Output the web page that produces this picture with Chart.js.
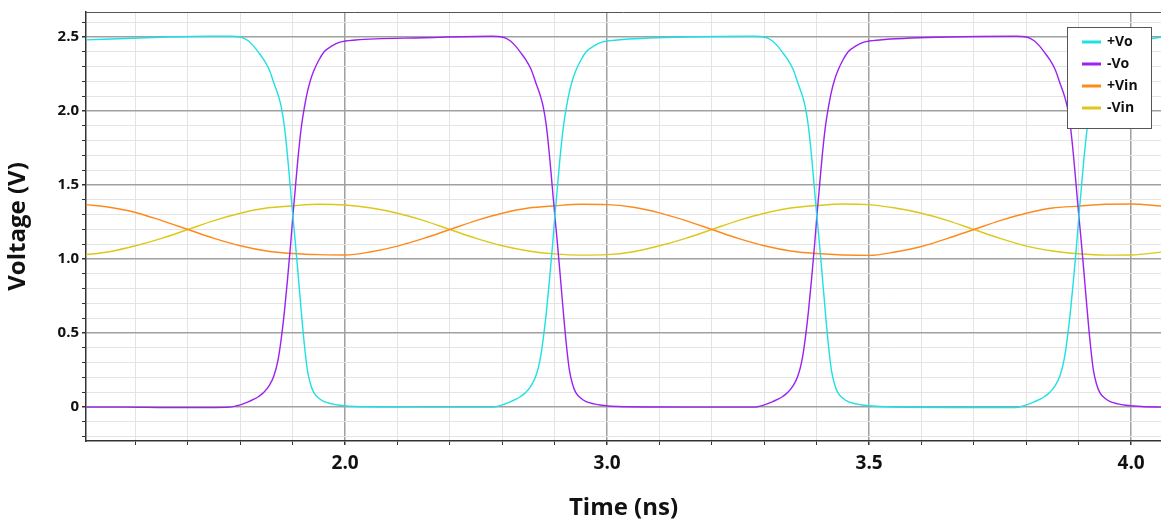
<!DOCTYPE html>
<html>
<head>
<meta charset="utf-8">
<script src="https://cdn.jsdelivr.net/npm/chart.js@4.4.0/dist/chart.umd.min.js"></script>
<style>
  html, body { margin: 0; padding: 0; background: #fff; }
  #wrap { width: 1161px; height: 523px; position: relative; }
</style>
</head>
<body>
<div id="wrap"><canvas id="chart"></canvas></div>
<script>
const seriesNames = ["+Vo", "-Vo", "+Vin", "-Vin"];
const seriesColors = ["#1fe0e3", "#9b22f0", "#ff8a1c", "#dcc81a"];

// output time points (ns), dense around each switching edge
const voTime = [
  1.50, 1.58, 1.66, 1.74,
  1.78, 1.80, 1.815, 1.825, 1.835, 1.845, 1.855, 1.864, 1.872, 1.878, 1.884, 1.89, 1.896,
  1.90, 1.904, 1.91, 1.916, 1.922, 1.928, 1.934, 1.94, 1.95, 1.96, 1.975, 1.99, 2.02,
  2.15,
  2.28, 2.30, 2.315, 2.325, 2.335, 2.345, 2.355, 2.364, 2.372, 2.378, 2.384, 2.39, 2.396,
  2.40, 2.404, 2.41, 2.416, 2.422, 2.428, 2.434, 2.44, 2.45, 2.46, 2.475, 2.49, 2.52,
  2.65,
  2.78, 2.80, 2.815, 2.825, 2.835, 2.845, 2.855, 2.864, 2.872, 2.878, 2.884, 2.89, 2.896,
  2.90, 2.904, 2.91, 2.916, 2.922, 2.928, 2.934, 2.94, 2.95, 2.96, 2.975, 2.99, 3.02,
  3.15,
  3.28, 3.30, 3.315, 3.325, 3.335, 3.345, 3.355, 3.364, 3.372, 3.378, 3.384, 3.39, 3.396,
  3.40, 3.404, 3.41, 3.416, 3.422, 3.428, 3.434, 3.44, 3.45, 3.46, 3.475, 3.49, 3.52,
  3.56
];
const voPos = [
  2.48, 2.49, 2.50, 2.505,
  2.505, 2.50, 2.475, 2.44, 2.395, 2.345, 2.28, 2.19, 2.11, 2.03, 1.90, 1.70, 1.46,
  1.30, 1.15, 0.91, 0.66, 0.43, 0.25, 0.155, 0.10, 0.06, 0.038, 0.022, 0.013, 0.004,
  0.0,
  0.0, 0.015, 0.035, 0.052, 0.072, 0.10, 0.145, 0.21, 0.32, 0.46, 0.64, 0.86, 1.10,
  1.28, 1.44, 1.68, 1.88, 2.02, 2.13, 2.21, 2.27, 2.345, 2.40, 2.44, 2.465, 2.48,
  2.50,
  2.505, 2.50, 2.475, 2.44, 2.395, 2.345, 2.28, 2.19, 2.11, 2.03, 1.90, 1.70, 1.46,
  1.30, 1.15, 0.91, 0.66, 0.43, 0.25, 0.155, 0.10, 0.06, 0.038, 0.022, 0.013, 0.004,
  -0.002,
  -0.002, 0.015, 0.035, 0.052, 0.072, 0.10, 0.145, 0.21, 0.32, 0.46, 0.64, 0.86, 1.10,
  1.28, 1.44, 1.68, 1.88, 2.02, 2.13, 2.21, 2.27, 2.345, 2.40, 2.44, 2.465, 2.48,
  2.50
];
const voNeg = [
  0.0, 0.0, -0.003, -0.003,
  0.0, 0.015, 0.035, 0.052, 0.072, 0.10, 0.145, 0.21, 0.32, 0.46, 0.64, 0.86, 1.10,
  1.28, 1.44, 1.68, 1.88, 2.02, 2.13, 2.21, 2.27, 2.345, 2.40, 2.44, 2.465, 2.48,
  2.495,
  2.505, 2.50, 2.475, 2.44, 2.395, 2.345, 2.28, 2.19, 2.11, 2.03, 1.90, 1.70, 1.46,
  1.30, 1.15, 0.91, 0.66, 0.43, 0.25, 0.155, 0.10, 0.06, 0.038, 0.022, 0.013, 0.004,
  0.0,
  0.0, 0.015, 0.035, 0.052, 0.072, 0.10, 0.145, 0.21, 0.32, 0.46, 0.64, 0.86, 1.10,
  1.28, 1.44, 1.68, 1.88, 2.02, 2.13, 2.21, 2.27, 2.345, 2.40, 2.44, 2.465, 2.48,
  2.50,
  2.505, 2.50, 2.475, 2.44, 2.395, 2.345, 2.28, 2.19, 2.11, 2.03, 1.90, 1.70, 1.46,
  1.30, 1.15, 0.91, 0.66, 0.43, 0.25, 0.155, 0.10, 0.06, 0.038, 0.022, 0.013, 0.004,
  0.0
];

// input time points (ns)
const vinTime = [
  1.50, 1.55, 1.60, 1.65, 1.70, 1.75, 1.80, 1.85, 1.90, 1.95,
  2.00, 2.05, 2.10, 2.15, 2.20, 2.25, 2.30, 2.35, 2.40, 2.45,
  2.50, 2.55, 2.60, 2.65, 2.70, 2.75, 2.80, 2.85, 2.90, 2.95,
  3.00, 3.05, 3.10, 3.15, 3.20, 3.25, 3.30, 3.35, 3.40, 3.45,
  3.50, 3.56
];
const vinPos = [
  1.37, 1.35, 1.315, 1.26, 1.20, 1.14, 1.09, 1.055, 1.038, 1.03,
  1.028, 1.05, 1.088, 1.14, 1.20, 1.26, 1.31, 1.345, 1.36, 1.37,
  1.368, 1.35, 1.312, 1.26, 1.20, 1.14, 1.09, 1.055, 1.038, 1.028,
  1.025, 1.048, 1.085, 1.14, 1.20, 1.26, 1.31, 1.345, 1.358, 1.37,
  1.372, 1.358
];
const vinNeg = [
  1.028, 1.05, 1.09, 1.14, 1.20, 1.26, 1.31, 1.345, 1.36, 1.37,
  1.365, 1.345, 1.31, 1.26, 1.20, 1.14, 1.09, 1.055, 1.035, 1.027,
  1.03, 1.05, 1.09, 1.14, 1.20, 1.26, 1.31, 1.345, 1.362, 1.372,
  1.368, 1.345, 1.31, 1.26, 1.20, 1.14, 1.088, 1.055, 1.036, 1.027,
  1.028, 1.048
];

const xTickValues = [2.0, 2.5, 3.0, 3.5];
const xTickLabels = ["2.0", "3.0", "3.5", "4.0"];
const yTickValues = [0, 0.5, 1.0, 1.5, 2.0, 2.5];
const yTickLabels = ["0", "0.5", "1.0", "1.5", "2.0", "2.5"];

Chart.defaults.font.family = "'Open Sans', sans-serif";
Chart.defaults.color = "#111";

function toPoints(times, values) {
  return times.map((t, i) => ({ x: t, y: values[i] }));
}

function stepTicks(from, to) {
  const out = [];
  for (let v = from; v <= to + 1e-9; v += 0.1) out.push({ value: Math.round(v * 10) / 10 });
  return out;
}

function findIdx(value, list) {
  return list.findIndex((v) => Math.abs(v - value) < 1e-6);
}

function gridColor(list) {
  return (c) => (c.tick && findIdx(c.tick.value, list) >= 0 ? "#a0a0a0" : "#e4e4e4");
}
function gridWidth(list) {
  return (c) => (c.tick && findIdx(c.tick.value, list) >= 0 ? 1.5 : 1);
}

const boxLegend = {
  id: "boxLegend",
  afterDatasetsDraw(chart) {
    const c = chart.ctx;
    const area = chart.chartArea;
    const left = area.right - 94;
    const top = area.top + 15;
    c.save();
    // top frame line
    c.strokeStyle = "#555";
    c.lineWidth = 1;
    c.beginPath();
    c.moveTo(area.left, area.top + 0.5);
    c.lineTo(area.right, area.top + 0.5);
    c.stroke();

    c.fillStyle = "#fff";
    c.fillRect(left, top, 85, 102);
    c.strokeStyle = "#555";
    c.strokeRect(left + 0.5, top + 0.5, 84, 101);
    chart.data.datasets.forEach((ds, i) => {
      const y = top + 15 + i * 22;
      c.strokeStyle = ds.borderColor;
      c.lineWidth = 3;
      c.beginPath();
      c.moveTo(left + 15, y);
      c.lineTo(left + 34, y);
      c.stroke();
      c.fillStyle = "#111";
      c.font = "bold 14px 'Open Sans', sans-serif";
      c.textBaseline = "middle";
      c.fillText(ds.label, left + 40, y);
    });
    c.restore();
  },
};

const allData = [
  toPoints(voTime, voPos),
  toPoints(voTime, voNeg),
  toPoints(vinTime, vinPos),
  toPoints(vinTime, vinNeg),
];

new Chart(document.getElementById("chart"), {
  type: "line",
  data: {
    datasets: seriesNames.map((name, i) => ({
      label: name,
      data: allData[i],
      borderColor: seriesColors[i],
      backgroundColor: seriesColors[i],
      borderWidth: 1.4,
      pointRadius: 0,
      fill: false,
      cubicInterpolationMode: "monotone",
    })),
  },
  options: {
    responsive: true,
    maintainAspectRatio: false,
    animation: false,
    layout: { padding: { top: 10, right: 0, left: 0, bottom: 0 } },
    plugins: { legend: { display: false }, tooltip: { enabled: false } },
    scales: {
      x: {
        type: "linear",
        min: 1.5055,
        max: 3.557,
        afterBuildTicks: (axis) => { axis.ticks = stepTicks(1.6, 3.5); },
        afterFit: (axis) => { axis.height = 82; },
        ticks: {
          autoSkip: false,
          maxRotation: 0,
          padding: 7,
          font: { size: 19, weight: "bold" },
          color: "#111",
          callback: (v) => { const i = findIdx(v, xTickValues); return i < 0 ? "" : xTickLabels[i]; },
        },
        grid: {
          color: gridColor(xTickValues),
          lineWidth: gridWidth(xTickValues),
          tickColor: "#333",
          tickLength: 4,
        },
        border: { color: "#333", width: 1.5 },
        title: {
          display: true,
          text: "Time (ns)",
          font: { size: 24, weight: "bold" },
          color: "#111",
          padding: { top: 0, bottom: 0 },
        },
      },
      y: {
        type: "linear",
        min: -0.2286,
        max: 2.669,
        afterBuildTicks: (axis) => { axis.ticks = stepTicks(-0.2, 2.6); },
        afterFit: (axis) => { axis.width = 86; },
        ticks: {
          autoSkip: false,
          padding: 3,
          font: { size: 15, weight: "bold" },
          color: "#111",
          callback: (v) => { const i = findIdx(v, yTickValues); return i < 0 ? "" : yTickLabels[i]; },
        },
        grid: {
          color: gridColor(yTickValues),
          lineWidth: gridWidth(yTickValues),
          tickColor: "#333",
          tickLength: 4,
        },
        border: { color: "#333", width: 1.5 },
        title: {
          display: true,
          text: "Voltage (V)",
          font: { size: 24, weight: "bold" },
          color: "#111",
          padding: { top: 4, bottom: 0 },
        },
      },
    },
  },
  plugins: [boxLegend],
});
</script>
</body>
</html>
